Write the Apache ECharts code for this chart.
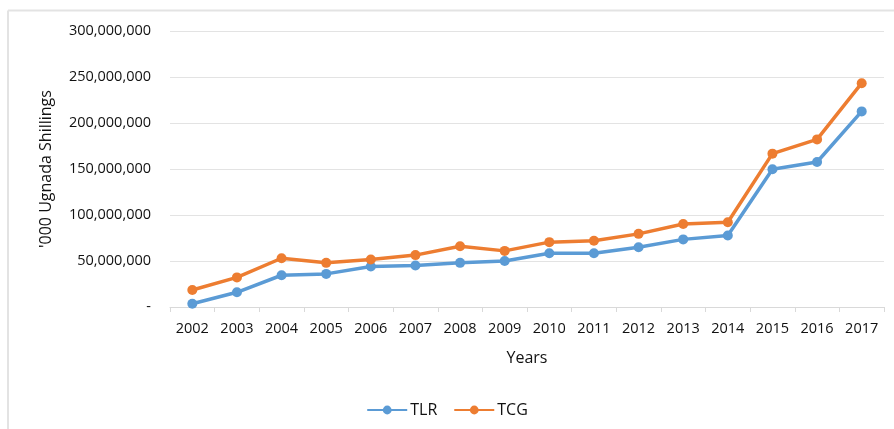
<html>
<head>
    <meta charset="utf-8">
    <script src="https://cdn.jsdelivr.net/npm/echarts@6/dist/echarts.min.js"></script>
</head>
<body>
    <style>
        html, body, #main {
            width: 100%;
            height: 100%;
            margin: 0;
            background: #fff;
        }
    </style>
    <div id="main"></div>
    <script type="text/javascript">
        // data
        var years = ['2002', '2003', '2004', '2005', '2006', '2007', '2008', '2009',
                     '2010', '2011', '2012', '2013', '2014', '2015', '2016', '2017'];
        var tlr = [3500000, 16000000, 34500000, 36000000, 44000000, 45200000, 48000000, 50000000,
                   58500000, 58500000, 65000000, 73500000, 77700000, 149800000, 157600000, 212600000];
        var tcg = [18500000, 32200000, 53000000, 48000000, 51700000, 56400000, 66000000, 61000000,
                   70500000, 72000000, 79500000, 90300000, 92200000, 166700000, 182200000, 243300000];

        var font = '"Open Sans", sans-serif';
        var chart = echarts.init(document.getElementById('main'));

        function fmt(v) {
            if (v === 0) return '-';
            return v.toString().replace(/\B(?=(\d{3})+(?!\d))/g, ',');
        }

        var option = {
            animation: false,
            textStyle: { fontFamily: font },
            grid: { left: 170, right: 10, top: 31, bottom: 122 },
            // thin frame of the original picture
            graphic: [
                { type: 'line', shape: { x1: 8, y1: 10.5, x2: 894, y2: 10.5 }, style: { stroke: '#e3e3e3', lineWidth: 2 } },
                { type: 'line', shape: { x1: 8, y1: 10.5, x2: 8, y2: 429 }, style: { stroke: '#e3e3e3', lineWidth: 2 } }
            ],
            legend: {
                top: 397,
                left: 'center',
                itemWidth: 40,
                itemHeight: 11,
                itemGap: 16,
                textStyle: { fontFamily: font, fontSize: 16, color: '#111', padding: [0, 0, 0, -2] },
                data: ['TLR', 'TCG']
            },
            xAxis: {
                type: 'category',
                data: years,
                boundaryGap: true,
                name: 'Years',
                nameLocation: 'middle',
                nameGap: 43,
                nameTextStyle: { fontFamily: font, fontSize: 16, color: '#111' },
                axisLine: { lineStyle: { color: '#d9d9d9', width: 1 } },
                axisTick: { show: true, length: 5, lineStyle: { color: '#d9d9d9' } },
                axisLabel: { fontFamily: font, fontSize: 14.5, color: '#111', margin: 14 }
            },
            yAxis: {
                type: 'value',
                min: 0,
                max: 300000000,
                interval: 50000000,
                name: "'000 Ugnada Shillings",
                nameLocation: 'middle',
                nameRotate: 90,
                nameGap: 116,
                nameTextStyle: { fontFamily: font, fontSize: 16, color: '#111' },
                axisLine: { show: false },
                axisTick: { show: false },
                splitLine: { lineStyle: { color: '#e3e3e3', width: 1 } },
                axisLabel: {
                    fontFamily: font, fontSize: 14.5, color: '#111', margin: 19,
                    formatter: fmt
                }
            },
            series: [
                {
                    name: 'TLR',
                    type: 'line',
                    data: tlr,
                    symbol: 'circle',
                    symbolSize: 10,
                    lineStyle: { color: '#5B9BD5', width: 3.5 },
                    itemStyle: { color: '#5B9BD5' }
                },
                {
                    name: 'TCG',
                    type: 'line',
                    data: tcg,
                    symbol: 'circle',
                    symbolSize: 10,
                    lineStyle: { color: '#ED7D31', width: 3.5 },
                    itemStyle: { color: '#ED7D31' }
                }
            ]
        };
        chart.setOption(option);
        window.onresize = chart.resize;
    </script>
</body>
</html>
